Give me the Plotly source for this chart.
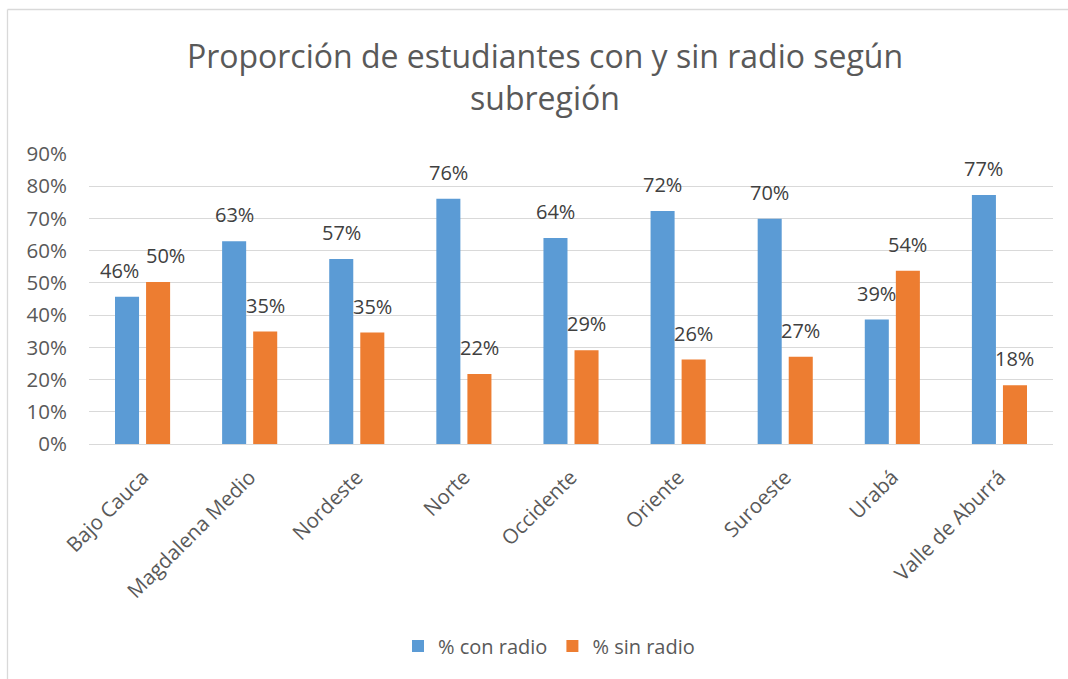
import plotly.graph_objects as go

categories = ["Bajo Cauca", "Magdalena Medio", "Nordeste", "Norte", "Occidente",
              "Oriente", "Suroeste", "Urabá", "Valle de Aburrá"]
con_radio = [0.457, 0.629, 0.574, 0.761, 0.639, 0.723, 0.699, 0.386, 0.773]
sin_radio = [0.503, 0.349, 0.346, 0.217, 0.291, 0.262, 0.271, 0.538, 0.182]
series_names = ["% con radio", "% sin radio"]
colors = ["#5B9BD5", "#ED7D31"]
y_ticks = [0, 0.1, 0.2, 0.3, 0.4, 0.5, 0.6, 0.7, 0.8, 0.9]

FONT = "Open Sans"
GRAY = "#595959"
L, R, T, B = 89, 15, 154, 235
W, H = 1068, 679
bargap = 0.42

fig = go.Figure()
for name, vals, col in zip(series_names, [con_radio, sin_radio], colors):
    fig.add_trace(go.Bar(x=categories, y=vals, name=name, marker_color=col,
                         marker_line_width=0))

# data labels above bars (first pair nudged apart, as in the original)
slot = (1 - bargap) / 2
annotations = []
for k, vals in enumerate([con_radio, sin_radio]):
    off = -slot / 2 if k == 0 else slot / 2
    for i, v in enumerate(vals):
        nudge = 0
        if i == 0:
            nudge = -8 if k == 0 else 7
        annotations.append(dict(x=i + off, y=v, xref="x", yref="y",
                                text=f"{round(v*100):d}%", showarrow=False,
                                yanchor="bottom", yshift=11, xshift=nudge,
                                font=dict(family=FONT, size=20, color="#404040")))

pw, ph = W - L - R, H - T - B
def px2paper_x(p): return (p - L) / pw
def px2paper_y(p): return (H - B - p) / ph

shapes = [
    dict(type="line", xref="paper", yref="paper", x0=px2paper_x(7.5), x1=px2paper_x(1100),
         y0=px2paper_y(9.5), y1=px2paper_y(9.5), line=dict(color="#D9D9D9", width=1.3)),
    dict(type="line", xref="paper", yref="paper", x0=px2paper_x(7.5), x1=px2paper_x(7.5),
         y0=px2paper_y(9.5), y1=px2paper_y(700), line=dict(color="#D9D9D9", width=1.3)),
]

fig.update_layout(
    width=W, height=H,
    margin=dict(l=L, r=R, t=T, b=B, autoexpand=False),
    paper_bgcolor="white", plot_bgcolor="white",
    barmode="group", bargap=bargap, bargroupgap=0.226,
    title=dict(text="Proporción de estudiantes con y sin radio según<br>subregión",
               x=545 / W, xanchor="center",
               y=1 - 68 / H, yanchor="middle",
               font=dict(family=FONT, size=32, color=GRAY)),
    xaxis=dict(tickangle=-45, tickfont=dict(family=FONT, size=20.5, color=GRAY),
               showgrid=False, showline=True, linecolor="#D9D9D9", linewidth=1.3,
               ticks="", ticklen=0, ticklabelstandoff=12),
    yaxis=dict(range=[0, 0.9], tickvals=y_ticks, tickformat=".0%",
               tickfont=dict(family=FONT, size=20.5, color=GRAY),
               showgrid=True, gridcolor="#D9D9D9", gridwidth=1.3,
               zeroline=False, showline=False, ticks="", ticklabelstandoff=21),
    legend=dict(orientation="h", x=px2paper_x(549), xanchor="center",
                y=px2paper_y(646), yanchor="middle",
                font=dict(family=FONT, size=20, color=GRAY),
                itemwidth=30, traceorder="normal"),
    annotations=annotations,
    shapes=shapes,
)

fig.write_html("out.html", config={"displayModeBar": False},
               post_script="document.body.style.margin='0';")
